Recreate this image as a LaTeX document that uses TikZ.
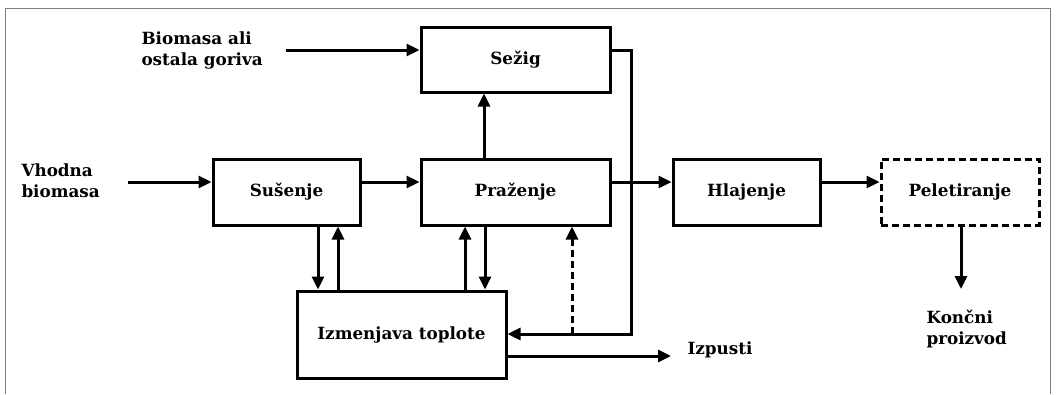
\documentclass[tikz,border=0pt]{standalone}
\usepackage{fontspec}
\setmainfont{DejaVu Serif}
\usetikzlibrary{arrows.meta}
\begin{document}
\begin{tikzpicture}[x=1pt,y=-1pt,line width=3pt,
    every node/.style={font=\bfseries\fontsize{16.8}{21}\selectfont},
    box/.style={draw,inner sep=0pt,minimum height=66pt},
    lbl/.style={align=left,inner sep=0pt},
    dsh/.style={dash pattern=on 7pt off 4pt},
    arr/.style={-{Triangle[length=13pt,width=12pt]}}]
    \useasboundingbox (0,0) rectangle (1058,394);
    \path[draw,line width=1pt,gray] (5,394) -- (5,8) -- (1050,8) -- (1050,394);

    \node[box,minimum width=189pt,minimum height=65pt] (sezig) at (515.5,59.5) {Sežig};
    \node[box,minimum width=147pt] (susenje) at (286.5,192) {Sušenje};
    \node[box,minimum width=189pt] (prazenje) at (515.5,192) {Praženje};
    \node[box,minimum width=147pt] (hlajenje) at (746.5,192) {Hlajenje};
    \node[box,dsh,minimum width=158pt] (peleti) at (960,192) {Peletiranje};
    \node[box,minimum width=209pt,minimum height=87pt] (izmenjava) at (401.5,334.5) {Izmenjava toplote};

    \node[lbl,anchor=west] (gorivo) at (140,50) {Biomasa ali\\ostala goriva};
    \node[lbl,anchor=west] (vhod) at (20,181) {Vhodna\\biomasa};
    \node[lbl,anchor=west] (izpusti) at (686,350) {Izpusti};
    \node[lbl,anchor=west] (konec) at (925,329) {Končni\\proizvod};

    \coordinate (g0) at (286,50);
    \coordinate (v0) at (128,182);
    \coordinate (k0) at (961,289);
    \coordinate (z0) at (671,356);
    \coordinate (r0) at (631,50);
    \coordinate (r1) at (631,334);
    \coordinate (d0) at (572,334);

    \draw[arr] (g0) -- (g0 -| sezig.west);
    \draw[arr] (v0) -- (v0 -| susenje.west);
    \draw[arr] (susenje.east |- v0) -- (prazenje.west |- v0);
    \draw[arr] (prazenje.east |- v0) -- (hlajenje.west |- v0);
    \draw[arr] (hlajenje.east |- v0) -- (peleti.west |- v0);
    \draw[arr] (prazenje.north -| 484,0) -- (sezig.south -| 484,0);
    \draw[arr] (peleti.south -| k0) -- (k0);

    \draw[arr] (susenje.south -| 318,0) -- (izmenjava.north -| 318,0);
    \draw[arr] (izmenjava.north -| 338,0) -- (susenje.south -| 338,0);
    \draw[arr] (izmenjava.north -| 465,0) -- (prazenje.south -| 465,0);
    \draw[arr] (prazenje.south -| 485,0) -- (izmenjava.north -| 485,0);

    \draw[arr] (sezig.east |- r0) -- (r0) -- (r1) -- (izmenjava.east |- r1);
    \draw[arr,dsh] (d0) -- (prazenje.south -| d0);
    \draw[arr] (izmenjava.east |- z0) -- (z0);
\end{tikzpicture}
\end{document}
